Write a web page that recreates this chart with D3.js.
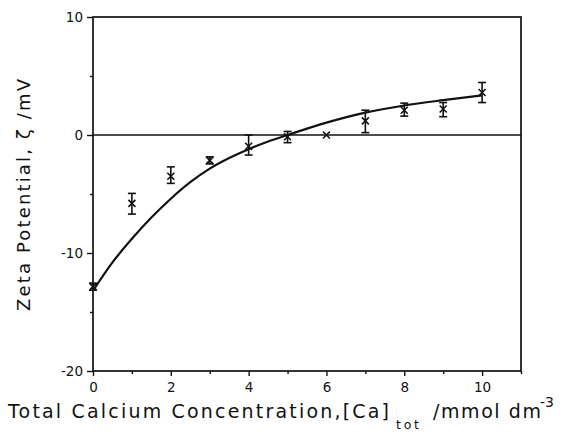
<!DOCTYPE html>
<html><head><meta charset="utf-8">
<script src="https://cdn.jsdelivr.net/npm/d3@7"></script>
<style>body{margin:0;background:#fff}svg{display:block}text{font-family:"DejaVu Sans",sans-serif;fill:#111}</style>
</head><body><svg id="c" width="570" height="448"></svg>
<script>
const concentration = [0, 1, 2, 3, 4, 5, 6, 7, 8, 9, 10];
const zeta = [-12.85, -5.8, -3.5, -2.15, -0.95, -0.15, 0, 1.2, 2.1, 2.2, 3.6];
const errLow = [0.3, 0.9, 0.6, 0.3, 0.75, 0.5, 0, 1.0, 0.5, 0.65, 0.85];
const errHigh = [0.3, 0.85, 0.8, 0.3, 0.95, 0.45, 0, 0.9, 0.6, 0.55, 0.85];
const curveX = [0, 0.5, 1, 1.5, 2, 2.5, 3, 3.5, 4, 4.5, 5, 6, 7, 8, 9, 10];
const curveY = [-13.2, -10.8, -8.8, -7.0, -5.4, -4.0, -2.85, -1.95, -1.2, -0.55, 0, 1.05, 1.9, 2.5, 2.95, 3.35];
const xTicks = [0, 2, 4, 6, 8, 10];
const xMinor = [1, 3, 5, 7, 9, 11];
const yTicks = [-20, -10, 0, 10];
const yMinor = [-15, -5, 5];

const svg = d3.select("#c");
const L = 93, R = 521, T = 17, B = 371;
const x = d3.scaleLinear().domain([0, 11]).range([L, R]);
const y = d3.scaleLinear().domain([-20, 10]).range([B, T]);

const g = svg.append("g");
g.append("rect").attr("x", L).attr("y", T).attr("width", R - L).attr("height", B - T)
  .attr("fill", "none").attr("stroke", "#111").attr("stroke-width", 1.7);
g.append("line").attr("x1", L).attr("x2", R).attr("y1", y(0)).attr("y2", y(0))
  .attr("stroke", "#111").attr("stroke-width", 1.3);

const fmt = d => String(d);
const xAxis = d3.axisBottom(x).tickValues(xTicks).tickSize(5).tickPadding(6).tickFormat(fmt);
const xa = g.append("g").attr("transform", `translate(0,${B})`).call(xAxis);
const xm = g.append("g").attr("transform", `translate(0,${B})`).call(d3.axisBottom(x).tickValues(xMinor).tickSize(3).tickFormat(""));
const yAxis = d3.axisLeft(y).tickValues(yTicks).tickSize(6).tickPadding(4).tickFormat(fmt);
const ya = g.append("g").attr("transform", `translate(${L},0)`).call(yAxis);
const ym = g.append("g").attr("transform", `translate(${L},0)`).call(d3.axisLeft(y).tickValues(yMinor).tickSize(3).tickFormat(""));
[xa, xm, ya, ym].forEach(a => {
  a.select(".domain").remove();
  a.selectAll("line").attr("stroke", "#111").attr("stroke-width", 1.4);
  a.selectAll("text").attr("font-size", 13.5).style("font-family", "DejaVu Sans").attr("fill", "#111");
});

const line = d3.line().x(d => x(d[0])).y(d => y(d[1])).curve(d3.curveMonotoneX);
g.append("path").datum(curveX.map((v, i) => [v, curveY[i]]))
  .attr("d", line).attr("fill", "none").attr("stroke", "#111").attr("stroke-width", 2.2);

const pts = concentration.map((c, i) => ({c, z: zeta[i], lo: zeta[i] - errLow[i], hi: zeta[i] + errHigh[i]}));
const eg = g.append("g").attr("stroke", "#111").attr("stroke-width", 1.6);
pts.filter(p => p.hi > p.lo).forEach(p => {
  const cx = x(p.c);
  eg.append("line").attr("x1", cx).attr("x2", cx).attr("y1", y(p.hi)).attr("y2", y(p.lo));
  eg.append("line").attr("x1", cx - 4).attr("x2", cx + 4).attr("y1", y(p.hi)).attr("y2", y(p.hi));
  eg.append("line").attr("x1", cx - 4).attr("x2", cx + 4).attr("y1", y(p.lo)).attr("y2", y(p.lo));
});
const s = 3.5;
pts.forEach(p => {
  const cx = x(p.c), cy = y(p.z);
  eg.append("path").attr("d", `M${cx - s},${cy - s}L${cx + s},${cy + s}M${cx - s},${cy + s}L${cx + s},${cy - s}`);
});

// x title
svg.append("text").attr("x", 8).attr("y", 418).attr("font-size", 19)
  .attr("textLength", 381).attr("lengthAdjust", "spacing").text("Total Calcium Concentration,[Ca]");
svg.append("text").attr("x", 396).attr("y", 429).attr("font-size", 12.5)
  .attr("textLength", 23).attr("lengthAdjust", "spacing").text("tot");
svg.append("text").attr("x", 433).attr("y", 418).attr("font-size", 19)
  .attr("textLength", 108).attr("lengthAdjust", "spacing").text("/mmol dm");
svg.append("text").attr("x", 540).attr("y", 407).attr("font-size", 14).text("-3");

// y title
svg.append("text").attr("transform", "translate(30,195) rotate(-90)")
  .attr("text-anchor", "middle").attr("font-size", 18)
  .attr("textLength", 232).attr("lengthAdjust", "spacing").text("Zeta Potential, ζ /mV");
</script></body></html>
